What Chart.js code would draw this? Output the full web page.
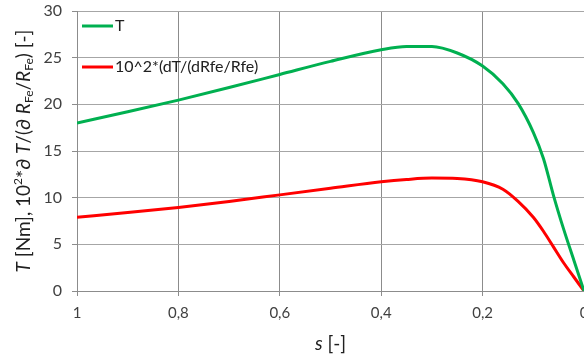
<!DOCTYPE html>
<html><head><meta charset="utf-8">
<script src="https://cdn.jsdelivr.net/npm/chart.js@4"></script>
<style>html,body{margin:0;padding:0;background:#fff;overflow:hidden}#wrap{width:584px;height:361px}</style>
</head><body><div id="wrap"><canvas id="c" width="584" height="361"></canvas></div>
<script>
const slip = [1, 0.9, 0.8, 0.7, 0.6, 0.5, 0.4, 0.35, 0.3, 0.25, 0.2, 0.16, 0.13, 0.1, 0.08, 0.06, 0.04, 0.02, 0];
const torque = [18.0, 19.2, 20.45, 21.8, 23.2, 24.6, 25.85, 26.2, 26.2, 25.5, 24.1, 22.2, 20.1, 17.0, 14.2, 10.2, 6.6, 3.3, 0];
const sens = [7.9, 8.4, 8.95, 9.6, 10.3, 11.0, 11.7, 11.95, 12.1, 12.05, 11.7, 10.9, 9.6, 7.9, 6.4, 4.7, 3.0, 1.5, 0];
const seriesLabels = ['T', '10^2*(dT/(dRfe/Rfe)'];
const xTickValues = [1, 0.8, 0.6, 0.4, 0.2, 0];
const xTickLabels = ['1', '0,8', '0,6', '0,4', '0,2', '0'];
const yTicks = [0, 5, 10, 15, 20, 25, 30];
const FONT = 'Lato, "Open Sans", sans-serif';

const pts = arr => slip.map((s, i) => ({x: s, y: arr[i]}));

const legendPlugin = {
  id: 'inlegend',
  afterDatasetsDraw(chart) {
    const ctx = chart.ctx, ca = chart.chartArea;
    const rows = [ca.top + 15, ca.top + 56];
    chart.data.datasets.forEach((ds, i) => {
      const y = rows[i];
      ctx.save();
      ctx.strokeStyle = ds.borderColor; ctx.lineWidth = 3;
      ctx.beginPath(); ctx.moveTo(ca.left + 5, y); ctx.lineTo(ca.left + 36, y); ctx.stroke();
      ctx.fillStyle = '#202020'; ctx.font = '16px ' + FONT; ctx.textBaseline = 'middle';
      ctx.fillText(ds.label, ca.left + 38, y);
      ctx.restore();
    });
  }
};

const titlePlugin = {
  id: 'titles',
  afterDraw(chart) {
    const ctx = chart.ctx, ca = chart.chartArea;
    const base = 19;
    const segs = [
      {t:'T', it:true}, {t:' [Nm], 10'}, {t:'2', sup:true}, {t:'*∂ '}, {t:'T', it:true},
      {t:'/(∂ '}, {t:'R', it:true}, {t:'Fe', sub:true}, {t:'/'}, {t:'R', it:true}, {t:'Fe', sub:true}, {t:') [-]'}
    ];
    const fontFor = s => (s.it ? 'italic ' : '') + ((s.sup || s.sub) ? Math.round(base*0.65) : base) + 'px ' + FONT;
    ctx.save();
    ctx.fillStyle = '#202020';
    let total = 0;
    segs.forEach(s => { ctx.font = fontFor(s); s.w = ctx.measureText(s.t).width; total += s.w; });
    ctx.translate(24, (ca.top + ca.bottom) / 2);
    ctx.rotate(-Math.PI / 2);
    ctx.textBaseline = 'middle';
    let x = -total / 2;
    segs.forEach(s => {
      ctx.font = fontFor(s);
      const dy = s.sup ? -6 : (s.sub ? 5 : 0);
      ctx.fillText(s.t, x, dy);
      x += s.w;
    });
    ctx.restore();
    ctx.save();
    ctx.fillStyle = '#202020'; ctx.textBaseline = 'middle';
    const xs = [{t:'s', it:true}, {t:' [-]'}];
    let tw = 0;
    xs.forEach(s => { ctx.font = fontFor(s); s.w = ctx.measureText(s.t).width; tw += s.w; });
    let xx = (ca.left + ca.right) / 2 - tw / 2;
    xs.forEach(s => { ctx.font = fontFor(s); ctx.fillText(s.t, xx, 344); xx += s.w; });
    ctx.restore();
  }
};

new Chart(document.getElementById('c'), {
  type: 'line',
  data: {
    datasets: [
      {label: seriesLabels[0], data: pts(torque), borderColor: '#00B050', borderWidth: 3, pointRadius: 0, cubicInterpolationMode: 'monotone', fill: false},
      {label: seriesLabels[1], data: pts(sens), borderColor: '#FF0000', borderWidth: 3, pointRadius: 0, cubicInterpolationMode: 'monotone', fill: false}
    ]
  },
  options: {
    responsive: false, animation: false,
    layout: {padding: {top: 11, right: 0, left: 0, bottom: 0}},
    plugins: {legend: {display: false}, tooltip: {enabled: false}},
    scales: {
      x: {
        type: 'linear', reverse: true, min: 0, max: 1,
        afterFit(s) { s.height = 70; s.paddingRight = 0; s.paddingLeft = 0; },
        afterBuildTicks(s) { s.ticks = xTickValues.map(v => ({value: v})); },
        ticks: {
          autoSkip: false, maxRotation: 0, padding: 8, color: '#404040', font: {family: FONT, size: 15},
          callback: v => { const i = xTickValues.findIndex(t => Math.abs(t - v) < 1e-9); return i >= 0 ? xTickLabels[i] : ''; }
        },
        grid: {color: '#8c8c8c', lineWidth: 1, borderDash: [2, 2], tickLength: 5, tickColor: '#8c8c8c', tickBorderDash: [], drawTicks: true},
        border: {display: true, color: '#8c8c8c', width: 1}
      },
      y: {
        min: 0, max: 30,
        afterFit(s) { s.width = 77; s.paddingTop = 0; s.paddingBottom = 0; },
        afterBuildTicks(s) { s.ticks = yTicks.map(v => ({value: v})); },
        ticks: {padding: 10, color: '#404040', font: {family: FONT, size: 16}},
        grid: {color: '#a6a6a6', lineWidth: 1, tickLength: 5, tickColor: '#8c8c8c'},
        border: {display: true, color: '#8c8c8c', width: 1}
      }
    }
  },
  plugins: [legendPlugin, titlePlugin]
});
</script></body></html>
